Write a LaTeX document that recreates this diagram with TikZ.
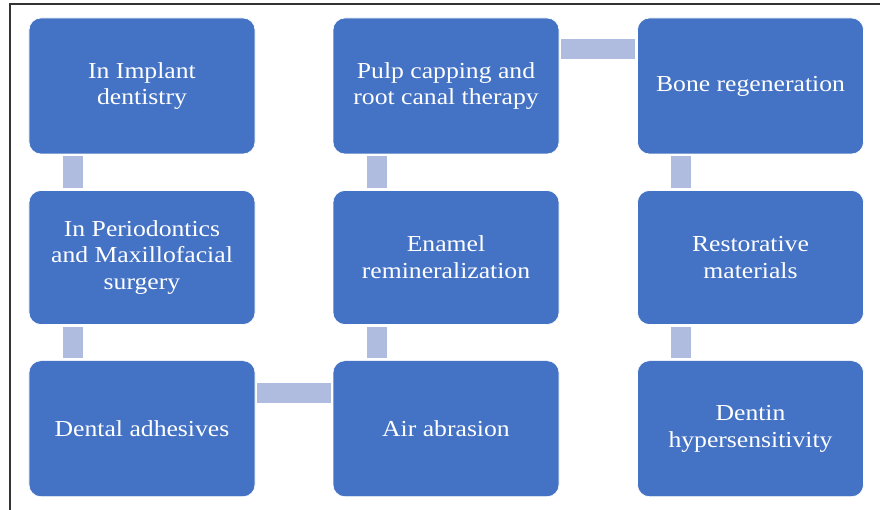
\documentclass[tikz,border=0pt]{standalone}
\usepackage{fontspec}
\setmainfont{Liberation Serif}[FakeStretch=1.12]
\definecolor{boxblue}{HTML}{4472C4}
\definecolor{connblue}{HTML}{B0BCDF}
\definecolor{framegray}{HTML}{333333}
\begin{document}
\begin{tikzpicture}[x=1bp,y=-1bp,
  card/.style={draw=white,line width=0.6bp,fill=boxblue,rounded corners=12bp,
    minimum width=226bp,text=white,align=center,inner sep=0pt,
    font=\fontsize{23}{27}\selectfont},
  conn/.style={draw=connblue,line width=20bp}]
\useasboundingbox (0,0) rectangle (880,510);
\draw[framegray,line width=2bp] (9.5,520) -- (9.5,4.5) -- (890,4.5);
% row 1
\node[card,minimum height=136bp] (a1) at (142,86) {In Implant\\dentistry};
\node[card,minimum height=136bp] (b1) at (446,86) {Pulp capping and\\root canal therapy};
\node[card,minimum height=136bp] (c1) at (750.5,86) {Bone regeneration};
% row 2
\node[card,minimum height=134bp] (a2) at (142,257.5) {In Periodontics\\and Maxillofacial\\surgery};
\node[card,minimum height=134bp] (b2) at (446,257.5) {Enamel\\remineralization};
\node[card,minimum height=134bp] (c2) at (750.5,257.5) {Restorative\\materials};
% row 3
\node[card,minimum height=136bp] (a3) at (142,428.7) {Dental adhesives};
\node[card,minimum height=136bp] (b3) at (446,428.7) {Air abrasion};
\node[card,minimum height=136bp] (c3) at (750.5,428.7) {Dentin\\hypersensitivity};
% connectors
\draw[conn,shorten <=2bp,shorten >=2bp] ([xshift=44bp]a1.south west) -- ([xshift=44bp]a2.north west);
\draw[conn,shorten <=2bp,shorten >=2bp] ([xshift=44bp]a2.south west) -- ([xshift=44bp]a3.north west);
\draw[conn,shorten <=2bp,shorten >=2bp] ([yshift=-32.5bp]a3.north east) -- ([yshift=-32.5bp]b3.north west);
\draw[conn,shorten <=2bp,shorten >=2bp] ([xshift=44bp]b3.north west) -- ([xshift=44bp]b2.south west);
\draw[conn,shorten <=2bp,shorten >=2bp] ([xshift=44bp]b2.north west) -- ([xshift=44bp]b1.south west);
\draw[conn,shorten <=2bp,shorten >=2bp] ([yshift=-31.5bp]b1.north east) -- ([yshift=-31.5bp]c1.north west);
\draw[conn,shorten <=2bp,shorten >=2bp] ([xshift=44bp]c1.south west) -- ([xshift=44bp]c2.north west);
\draw[conn,shorten <=2bp,shorten >=2bp] ([xshift=44bp]c2.south west) -- ([xshift=44bp]c3.north west);
\end{tikzpicture}
\end{document}
